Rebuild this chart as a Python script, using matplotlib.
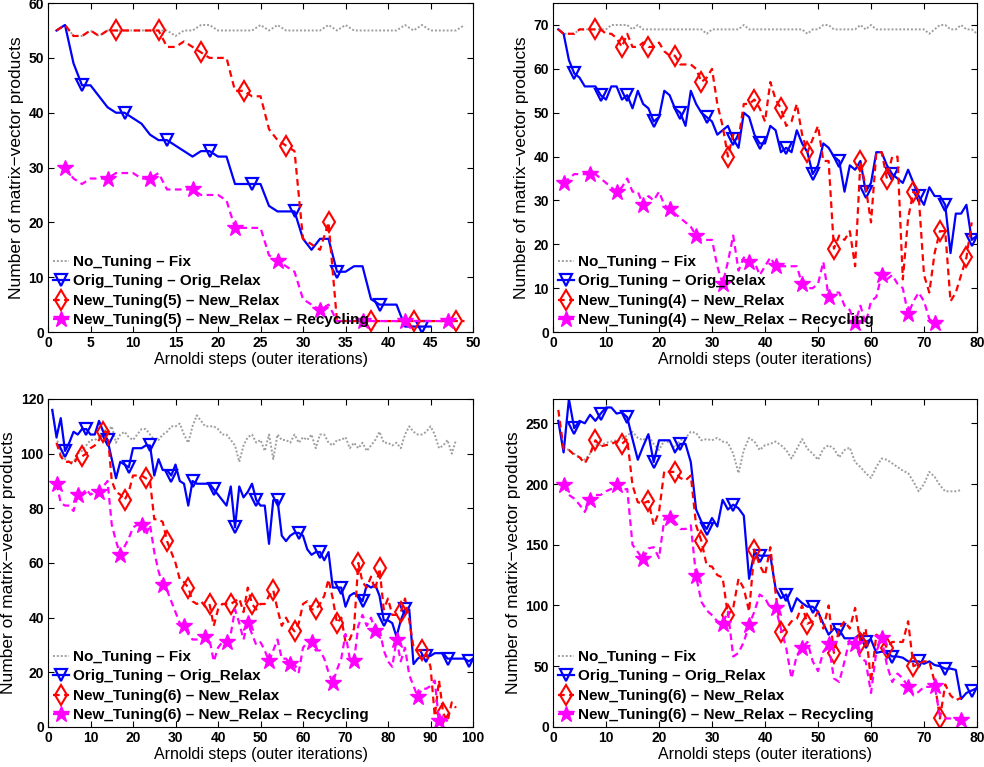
import matplotlib.pyplot as plt
import numpy as np

plt.rcParams['font.family'] = ['Liberation Sans', 'DejaVu Sans']
plt.rcParams['font.weight'] = 'bold'

# ---- panel 1 (top left), tuning 5 ----
p1_fix = [55, 56, 54, 54, 55, 54, 55, 55, 55, 55, 55, 55, 55, 55, 54, 55, 55, 56, 56, 55,
          55, 55, 55, 55, 56, 55, 56, 55, 55, 55, 55, 55, 56, 55, 56, 55, 55, 55, 55, 55,
          55, 56, 55, 56, 55, 55, 55, 55, 56]
p1_orig = [55, 56, 49, 45, 45, 43, 41, 40, 40, 39, 38, 36, 35, 35, 34, 33, 32, 33, 33, 32,
           32, 27, 27, 27, 27, 23, 22, 22, 22, 17, 15, 17, 17, 11, 11, 12, 12, 6, 5, 5,
           5, 1, 1, 1, 1]
p1_new = [55, 56, 54, 54, 55, 54, 55, 55, 55, 55, 55, 55, 55, 52, 52, 53, 52, 51, 50, 50,
          50, 44, 44, 43, 43, 37, 35, 34, 33, 17, 16, 15, 20, 2, 2, 2, 2, 2, 2, 2,
          2, 2, 2, 2, 2, 2, 2, 2, 2]
p1_rec = [30, 28, 27, 28, 28, 28, 29, 29, 29, 28, 28, 29, 26, 26, 26, 26, 25, 25, 25, 24,
          19, 19, 19, 19, 14, 13, 12, 11, 6, 5, 4, 5, 2, 2, 2, 2, 2, 2, 2, 2,
          2, 2, 2, 2, 2, 2, 2]

# ---- panel 2 (top right), tuning 4 ----
p2_fix = [69, 68, 68, 68, 69, 69, 69, 69, 69, 69, 70, 70, 70, 70, 69, 70, 69, 69, 69, 69,
          69, 69, 69, 69, 69, 69, 69, 69, 68, 69, 69, 69, 69, 69, 69, 70, 69, 69, 69, 69,
          69, 69, 69, 69, 69, 69, 69, 68, 69, 69, 70, 70, 69, 69, 69, 69, 69, 70, 69, 70,
          69, 69, 69, 69, 69, 69, 69, 69, 69, 69, 68, 69, 70, 70, 69, 69, 70, 69, 69, 68]
p2_orig = [69, 68, 62, 59, 58, 56, 56, 56, 54, 53, 56, 56, 53, 54, 51, 55, 52, 51, 48, 49,
           55, 54, 51, 50, 47, 55, 52, 50, 49, 48, 45, 46, 47, 44, 42, 50, 49, 45, 43, 43,
           47, 46, 41, 42, 41, 46, 43, 41, 36, 38, 43, 42, 40, 39, 32, 38, 37, 39, 32, 34,
           41, 41, 38, 36, 35, 34, 37, 34, 31, 29, 33, 31, 31, 29, 18, 27, 27, 29, 21, 22]
p2_new = [69, 68, 68, 68, 69, 69, 69, 69, 69, 68, 68, 67, 65, 68, 65, 65, 66, 65, 65, 66,
          64, 63, 63, 61, 61, 61, 60, 57, 58, 60, 52, 47, 40, 45, 44, 52, 52, 53, 51, 48,
          57, 53, 51, 47, 48, 52, 45, 41, 44, 47, 39, 39, 19, 22, 21, 23, 15, 39, 33, 25,
          41, 41, 35, 40, 40, 12, 26, 32, 31, 13, 9, 18, 23, 23, 7, 9, 13, 17, 25]
p2_rec = [34, 35, 36, 36, 36, 36, 36, 35, 34, 33, 32, 33, 35, 32, 32, 29, 31, 30, 32, 29,
          28, 27, 26, 25, 24, 22, 21, 21, 21, 15, 11, 16, 22, 14, 17, 16, 16, 13, 15, 17,
          15, 15, 15, 15, 15, 11, 10, 10, 11, 16, 8, 9, 9, 6, 5, 2, 6, 2, 7, 8,
          13, 12, 13, 11, 10, 4, 7, 9, 7, 3, 2, 2, 2]

# ---- panel 3 (bottom left), tuning 6 ----
p3_fix = [116, 106, 100, 98, 97, 97, 100, 101, 103, 105, 105, 106, 109, 108, 110, 104, 107, 108, 106, 105,
          107, 109, 109, 107, 105, 105, 107, 108, 110, 110, 111, 107, 104, 110, 114, 112, 110, 110, 110, 109,
          107, 107, 105, 103, 97, 103, 106, 107, 104, 105, 101, 107, 98, 107, 105, 105, 104, 107, 104, 106,
          105, 107, 102, 107, 107, 104, 103, 105, 105, 106, 102, 104, 102, 104, 101, 103, 105, 108, 104, 104,
          103, 104, 102, 107, 110, 108, 107, 107, 108, 110, 107, 102, 103, 105, 100, 105]
p3_orig = [116, 106, 113, 101, 104, 108, 107, 109, 109, 107, 107, 112, 108, 105, 98, 91, 97, 96, 95, 102,
           102, 102, 103, 103, 92, 98, 94, 94, 92, 96, 90, 89, 81, 90, 89, 89, 89, 89, 87, 85,
           83, 81, 88, 73, 88, 84, 86, 89, 83, 81, 81, 67, 83, 83, 70, 68, 70, 71, 71, 70,
           65, 63, 64, 64, 61, 64, 51, 51, 51, 44, 48, 49, 48, 46, 52, 51, 52, 48, 39, 39,
           38, 33, 39, 43, 43, 23, 25, 26, 26, 26, 27, 27, 27, 25, 25, 25, 25, 25, 24, 25]
p3_new = [104, 99, 97, 97, 96, 99, 99, 100, 102, 103, 105, 108, 108, 90, 86, 85, 83, 86, 92, 92,
          92, 91, 90, 76, 76, 75, 68, 64, 60, 54, 53, 51, 46, 45, 46, 44, 45, 37, 43, 45,
          45, 45, 46, 47, 42, 51, 45, 43, 45, 45, 48, 50, 43, 37, 40, 37, 35, 38, 45, 46,
          43, 43, 45, 48, 54, 47, 38, 40, 31, 32, 36, 60, 53, 51, 55, 50, 58, 43, 47, 41,
          41, 42, 47, 39, 29, 28, 28, 27, 22, 4, 17, 5, 2, 9, 7]
p3_rec = [89, 82, 81, 81, 79, 85, 85, 87, 85, 86, 86, 88, 90, 74, 68, 63, 66, 69, 73, 74,
          74, 70, 74, 64, 57, 52, 50, 46, 42, 38, 37, 34, 32, 32, 32, 33, 32, 24, 29, 31,
          31, 34, 43, 38, 32, 38, 34, 30, 31, 28, 24, 28, 32, 25, 25, 23, 23, 20, 29, 31,
          31, 28, 28, 25, 20, 16, 21, 25, 34, 25, 24, 37, 41, 37, 40, 35, 36, 28, 24, 22,
          32, 24, 29, 19, 15, 11, 14, 14, 15, 17, 2, 4, 2]

# ---- panel 4 (bottom right), tuning 6 ----
p4_fix = [252, 230, 228, 225, 222, 220, 225, 232, 232, 234, 235, 236, 237, 240, 243, 238, 236, 240, 233, 228,
          236, 234, 230, 236, 238, 243, 242, 236, 237, 236, 238, 235, 234, 225, 209, 228, 238, 235, 228, 232,
          233, 235, 232, 228, 221, 229, 237, 229, 225, 220, 229, 232, 229, 222, 228, 230, 218, 214, 209, 205,
          214, 221, 220, 217, 214, 211, 209, 202, 194, 200, 210, 206, 199, 194, 194, 194, 195]
p4_orig = [252, 226, 270, 246, 252, 250, 257, 252, 258, 263, 263, 258, 259, 255, 237, 220, 231, 241, 218, 236,
           236, 236, 226, 233, 233, 218, 179, 169, 163, 172, 165, 187, 179, 183, 180, 174, 122, 144, 141, 141,
           141, 114, 106, 109, 95, 106, 102, 99, 99, 95, 85, 76, 81, 80, 73, 73, 73, 77, 70, 72,
           61, 62, 61, 58, 58, 57, 54, 54, 54, 52, 54, 51, 50, 48, 48, 47, 23, 28, 30, 32]
p4_new = [261, 229, 228, 224, 222, 217, 225, 236, 231, 232, 233, 235, 233, 237, 199, 185, 184, 186, 166, 177,
          211, 210, 210, 205, 203, 207, 166, 153, 133, 132, 125, 123, 92, 98, 122, 114, 95, 146, 133, 125,
          148, 110, 78, 81, 87, 89, 100, 85, 87, 95, 81, 100, 61, 81, 87, 81, 98, 69, 81, 37,
          76, 73, 65, 70, 70, 70, 87, 50, 52, 54, 54, 37, 7, 35, 26, 22, 24]
p4_rec = [199, 191, 188, 183, 177, 187, 191, 191, 194, 196, 199, 195, 196, 150, 144, 138, 147, 148, 139, 171,
          172, 169, 163, 163, 166, 124, 103, 96, 92, 87, 85, 95, 58, 61, 70, 84, 95, 109, 106, 98,
          98, 81, 65, 40, 59, 65, 70, 54, 46, 62, 68, 40, 37, 54, 73, 68, 57, 54, 28, 62,
          73, 51, 37, 44, 40, 33, 26, 29, 33, 33, 34, 9, 7, 7, 6, 6]

# first x of each series (fix, orig, new, rec)
starts = [1, 1, 1, 2]
panel3_starts = [1, 1, 2, 2]


def steps(first, vals):
    return np.arange(first, first + len(vals))


def draw_panel(rect, fix, orig, new, rec, first, tuning, xmax, xstep, ytop, ymax, ystep):
    ax = fig.add_axes(rect)
    x0, x1, x2, x3 = first
    ax.plot(steps(x0, fix), fix, color=(0.62, 0.62, 0.62), linestyle=(0, (1, 1)), lw=1.4,
            label='No_Tuning \u2013 Fix')
    ax.plot(steps(x1, orig), orig, color='#0000ff', linestyle='-', lw=1.6,
            marker='v', markersize=8.5, mfc='none', mec='#0000ff', mew=1.6,
            markevery=(4 - x1, 5), label='Orig_Tuning \u2013 Orig_Relax')
    ax.plot(steps(x2, new), new, color='#ff0000', linestyle=(0, (3, 2)), lw=1.6,
            marker='d', markersize=10, mfc='none', mec='#ff0000', mew=1.5,
            markevery=(8 - x2, 5), label='New_Tuning(%d) \u2013 New_Relax' % tuning)
    ax.plot(steps(x3, rec), rec, color='#ff00ff', linestyle=(0, (3, 2)), lw=1.6,
            marker='*', markersize=12, mfc='#ff00ff', mec='#ff00ff',
            markevery=(2 - x3, 5), label='New_Tuning(%d) \u2013 New_Relax \u2013 Recycling' % tuning)

    ax.set_xlim(0, xmax)
    ax.set_ylim(0, ytop)
    ax.set_xticks(np.arange(0, xmax + 1, xstep))
    ax.set_yticks(np.arange(0, ymax + 1, ystep))
    ax.tick_params(direction='in', top=True, right=True, length=4, width=0.8,
                   pad=3, labelsize=10)
    for s in ax.spines.values():
        s.set_linewidth(0.8)

    ax.set_xlabel('Arnoldi steps (outer iterations)', fontsize=11.5, fontweight='normal',
                  labelpad=1)
    ax.set_ylabel('Number of matrix\u2212vector products', fontsize=12.5,
                  fontweight='normal', labelpad=3)

    ax.legend(loc='lower left', frameon=False, numpoints=1, borderaxespad=0.0,
              borderpad=0.3, handlelength=1.1, handletextpad=0.25, labelspacing=0.36,
              prop={'weight': 'bold', 'size': 11})
    return ax


fig = plt.figure(figsize=(9.84, 7.67), dpi=100)

draw_panel([0.0488, 0.5671, 0.4319, 0.4289], p1_fix, p1_orig, p1_new, p1_rec,
           starts, 5, 50, 5, 60, 60, 10)
draw_panel([0.5620, 0.5671, 0.4309, 0.4289], p2_fix, p2_orig, p2_new, p2_rec,
           starts, 4, 80, 10, 75, 70, 10)
draw_panel([0.0488, 0.0522, 0.4319, 0.4276], p3_fix, p3_orig, p3_new, p3_rec,
           panel3_starts, 6, 100, 10, 120, 120, 20)
draw_panel([0.5620, 0.0522, 0.4309, 0.4276], p4_fix, p4_orig, p4_new, p4_rec,
           starts, 6, 80, 10, 270, 250, 50)

plt.savefig('out.png', dpi=100)
